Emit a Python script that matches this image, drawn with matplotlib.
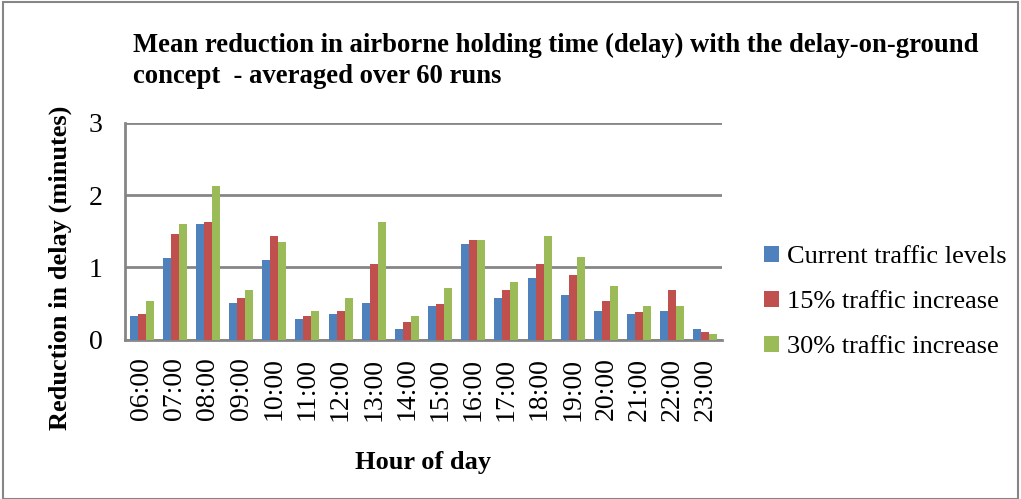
import numpy as np
import matplotlib.pyplot as plt
from matplotlib.patches import Rectangle

hours = ['06:00', '07:00', '08:00', '09:00', '10:00', '11:00', '12:00', '13:00', '14:00',
         '15:00', '16:00', '17:00', '18:00', '19:00', '20:00', '21:00', '22:00', '23:00']
current = [0.32, 1.13, 1.60, 0.51, 1.10, 0.29, 0.35, 0.51, 0.15,
           0.46, 1.32, 0.57, 0.85, 0.62, 0.40, 0.35, 0.40, 0.15]
inc15 = [0.35, 1.46, 1.63, 0.57, 1.43, 0.32, 0.40, 1.04, 0.24,
         0.49, 1.38, 0.68, 1.04, 0.90, 0.54, 0.38, 0.68, 0.10]
inc30 = [0.54, 1.60, 2.13, 0.68, 1.35, 0.40, 0.57, 1.63, 0.32,
         0.71, 1.38, 0.79, 1.43, 1.15, 0.74, 0.46, 0.46, 0.07]
seriesNames = ['Current traffic levels', '15% traffic increase', '30% traffic increase']
colors = ['#4F81BD', '#C0504D', '#9BBB59']

plt.rcParams['font.family'] = ['Liberation Serif', 'DejaVu Serif']

fig = plt.figure(figsize=(10.21, 4.99), dpi=100)
ax = fig.add_axes([125 / 1021, 1 - 339.5 / 499, (722 - 125) / 1021, (339.5 - 123) / 499])

x = np.arange(len(hours))
w = 0.24
for i, vals in enumerate([current, inc15, inc30]):
    ax.bar(x + (i - 1) * w, vals, w, color=colors[i], label=seriesNames[i], zorder=3)

ax.set_xlim(-0.5, len(hours) - 0.5)
ax.set_ylim(0, 3)
ax.set_yticks([0, 1, 2, 3])
ax.yaxis.grid(True, color='#868686', linewidth=2)
ax.set_axisbelow(True)
ax.set_xticks(x)
ax.set_xticklabels(hours, rotation=90, fontsize=20)
ax.tick_params(axis='y', labelsize=20, length=0, pad=16)
ax.tick_params(axis='x', length=0, pad=13)
for s in ['top', 'right']:
    ax.spines[s].set_visible(False)
for s in ['left', 'bottom']:
    ax.spines[s].set_color('#868686')
    ax.spines[s].set_linewidth(2)

fig.text(423 / 1021, 1 - 462 / 499, 'Hour of day', fontsize=19, fontweight='bold',
         ha='center', va='center')
fig.text(60 / 1021, 1 - 268 / 499, 'Reduction in delay (minutes)', rotation=90,
         fontsize=19, fontweight='bold', ha='center', va='center')

fig.text(133 / 1021, 1 - 61 / 499,
         'Mean reduction in airborne holding time (delay) with the delay-on-ground\nconcept  - averaged over 60 runs',
         fontsize=19.2, fontweight='bold', ha='left', va='center', linespacing=1.3)

ax.legend(loc='center left', bbox_to_anchor=(751 / 1021, 1 - 302 / 499), bbox_transform=fig.transFigure,
          frameon=False, fontsize=19, handlelength=0.55, handleheight=0.55, handletextpad=0.3,
          labelspacing=0.87, borderpad=0)

fig.patches.append(Rectangle((3 / 1021, 0), 1 - 6 / 1021, 1 - 2 / 499, transform=fig.transFigure,
                             fill=False, edgecolor='#868686', linewidth=1.5))

fig.savefig('out.png', dpi=100)
